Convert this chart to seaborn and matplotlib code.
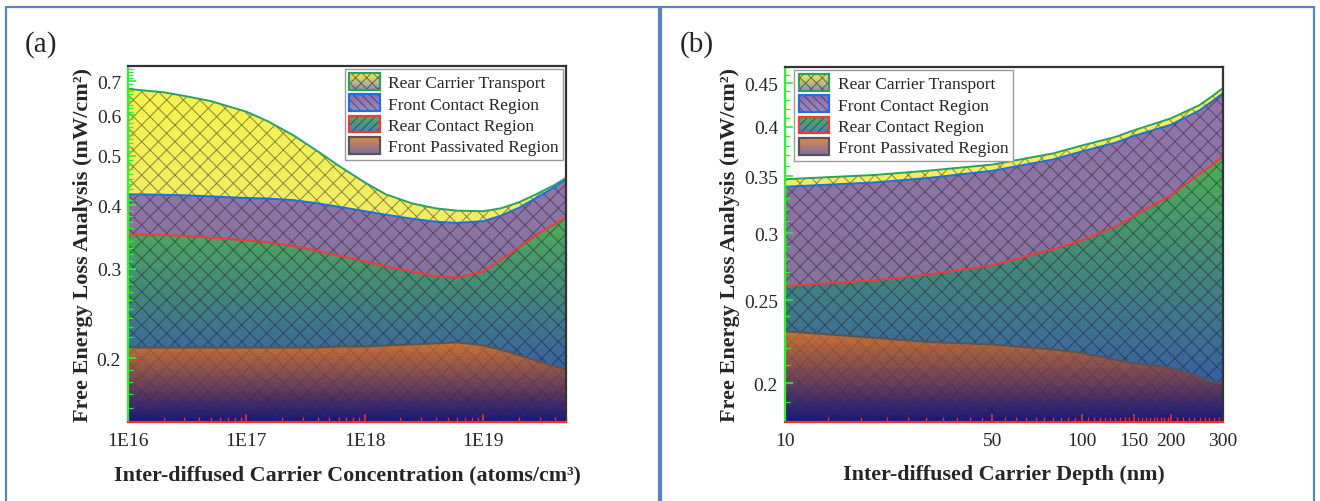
import numpy as np
import matplotlib
matplotlib.use('Agg')
import matplotlib.pyplot as plt
import matplotlib.ticker as mticker
import matplotlib.colors as mcolors
from matplotlib.patches import Rectangle, Patch
from matplotlib.legend_handler import HandlerBase
import seaborn as sns

# ---- panel (a): loss vs inter-diffused carrier concentration (atoms/cm3)
conc = [1e16, 2e16, 3e16, 5e16, 1e17, 1.5e17, 2.5e17, 4e17, 6e17, 1e18,
        1.5e18, 2.5e18, 4e18, 6e18, 1e19, 1.4e19, 2e19, 2.8e19, 4e19, 5e19]
conc_front_passivated = [0.210, 0.210, 0.210, 0.210, 0.210, 0.210, 0.210, 0.210, 0.211, 0.211,
                         0.212, 0.213, 0.214, 0.215, 0.212, 0.208, 0.203, 0.198, 0.193, 0.190]
conc_rear_contact = [0.140, 0.139, 0.138, 0.135, 0.131, 0.128, 0.122, 0.115, 0.107, 0.099,
                     0.091, 0.083, 0.076, 0.073, 0.084, 0.104, 0.127, 0.151, 0.174, 0.188]
conc_front_contact = [0.070, 0.070, 0.070, 0.071, 0.072, 0.074, 0.077, 0.078, 0.079, 0.079,
                      0.080, 0.080, 0.081, 0.081, 0.076, 0.069, 0.065, 0.064, 0.067, 0.072]
conc_rear_carrier = [0.256, 0.247, 0.237, 0.224, 0.197, 0.173, 0.139, 0.107, 0.081, 0.054,
                     0.037, 0.027, 0.023, 0.021, 0.017, 0.013, 0.010, 0.007, 0.004, 0.002]

# ---- panel (b): loss vs inter-diffused carrier depth (nm)
depth = [10, 20, 30, 50, 80, 100, 130, 150, 200, 250, 275, 300]
depth_front_passivated = [0.230, 0.226, 0.2235, 0.222, 0.219, 0.217, 0.213, 0.211, 0.2085, 0.2035, 0.2005, 0.200]
depth_rear_contact = [0.030, 0.038, 0.0445, 0.053, 0.068, 0.077, 0.092, 0.103, 0.1235, 0.1485, 0.1595, 0.169]
depth_front_contact = [0.080, 0.080, 0.080, 0.080, 0.079, 0.080, 0.078, 0.076, 0.070, 0.066, 0.068, 0.069]
depth_rear_carrier = [0.007, 0.007, 0.007, 0.006, 0.006, 0.006, 0.006, 0.006, 0.007, 0.006, 0.006, 0.006]

labels = ['Front Passivated Region', 'Rear Contact Region', 'Front Contact Region', 'Rear Carrier Transport']

conc_ticks_y = [0.2, 0.3, 0.4, 0.5, 0.6, 0.7]
depth_ticks_x = [10, 50, 100, 150, 200, 300]
depth_ticks_y = [0.2, 0.25, 0.3, 0.35, 0.4, 0.45]

# styles, bottom layer first
STYLES = [
    dict(top='#cc7234', bottom='#18187a', line='#555555', hatch='xx', halpha=0.18,
         leg_top='#de8a3c', leg_bottom='#7d6ea8', leg_hatch=None),
    dict(top='#4fae57', bottom='#3a5fa2', line='#f03a3a', hatch='xx', halpha=0.5,
         leg_top='#4fae57', leg_bottom='#4a7fb8', leg_hatch='////'),
    dict(top='#9275ab', bottom='#86729a', line='#1f6fe0', hatch='xx', halpha=0.5,
         leg_top='#8a68b0', leg_bottom='#9c8cbf', leg_hatch='\\\\\\\\'),
    dict(top='#f7f34c', bottom='#f1ec66', line='#2aa062', hatch='xx', halpha=0.5,
         leg_top='#f3ef4a', leg_bottom='#8e8fb5', leg_hatch='xxx'),
]

GREEN_AX = '#30ee30'
RED_AX = '#ff2a2a'
BOX_BLUE = '#5a84c2'


class GradientHandler(HandlerBase):
    def __init__(self, top, bottom, edge, hatch):
        super().__init__()
        self.top = np.array(mcolors.to_rgb(top))
        self.bottom = np.array(mcolors.to_rgb(bottom))
        self.edge = edge
        self.hatch = hatch

    def create_artists(self, legend, orig_handle, xdescent, ydescent, width, height, fontsize, trans):
        arts = []
        n = 20
        x0, y0 = -xdescent, -ydescent
        for i in range(n):
            t = (i + 0.5) / n
            c = self.bottom + t * (self.top - self.bottom)
            arts.append(Rectangle((x0, y0 + i * height / n), width, height / n * 1.05,
                                  facecolor=c, edgecolor='none', lw=0, transform=trans))
        if self.hatch:
            arts.append(Rectangle((x0, y0), width, height, facecolor='none',
                                  edgecolor=(0.15, 0.15, 0.15, 0.6), lw=0, hatch=self.hatch, transform=trans))
        arts.append(Rectangle((x0, y0), width, height, facecolor='none',
                              edgecolor=self.edge, lw=1.6, transform=trans))
        return arts


def draw_panel(ax, x, parts, xlim, ylim):
    ax.set_xscale('log')
    ax.set_yscale('log')
    ax.set_xlim(xlim)
    ax.set_ylim(ylim)
    ax.autoscale(False)
    x = np.asarray(x, dtype=float)
    tops = np.cumsum(np.asarray(parts, dtype=float), axis=0)
    lmin, lmax = np.log10(ylim[0]), np.log10(ylim[1])

    def frac(v):
        return (np.log10(v) - lmin) / (lmax - lmin)

    yy = np.linspace(0, 1, 800)[:, None]
    for i, st in enumerate(STYLES):
        upper = tops[i]
        if i == 0:
            lower = np.full_like(upper, ylim[0] * 0.9)
            f0 = 0.0
        else:
            lower = tops[i - 1]
            f0 = frac(lower.min())
        f1 = frac(upper.max())
        t = np.clip((yy - f0) / (f1 - f0), 0, 1)
        c0 = np.array(mcolors.to_rgb(st['bottom']))
        c1 = np.array(mcolors.to_rgb(st['top']))
        img = c0 + t[..., None] * (c1 - c0)
        plt.rcParams['hatch.color'] = (0.1, 0.1, 0.12, st['halpha'])
        band = ax.fill_between(x, lower, upper, facecolor='none',
                               edgecolor=(0.1, 0.1, 0.12, st['halpha']),
                               hatch=st['hatch'], linewidth=0, zorder=2)
        im = ax.imshow(img, extent=(0, 1, 0, 1), transform=ax.transAxes, origin='lower',
                       aspect='auto', interpolation='bilinear', zorder=1)
        im.set_clip_path(band.get_paths()[0], band.get_transform())
    for i, st in enumerate(STYLES):
        sns.lineplot(x=x, y=tops[i], ax=ax, color=st['line'], lw=1.4, zorder=3, legend=False)
    ax.set_xlim(xlim)
    ax.set_ylim(ylim)
    ax.set_aspect('auto')


def style_axes(ax):
    ax.set_axisbelow(False)
    for side in ['top', 'right']:
        ax.spines[side].set_color('#333333')
        ax.spines[side].set_linewidth(1.6)
    ax.spines['left'].set_color(GREEN_AX)
    ax.spines['left'].set_linewidth(1.6)
    ax.spines['bottom'].set_color(RED_AX)
    ax.spines['bottom'].set_linewidth(1.6)
    for sp in ax.spines.values():
        sp.set_zorder(4)
    ax.tick_params(axis='y', which='both', direction='in', color=GREEN_AX, labelsize=14, pad=5,
                   left=True, right=False)
    ax.tick_params(axis='x', which='both', direction='in', color=RED_AX, labelsize=14, pad=7,
                   bottom=True, top=False)
    ax.tick_params(which='major', length=6, width=1.2)
    ax.tick_params(which='minor', length=3.5, width=0.9)
    ax.yaxis.set_minor_formatter(mticker.NullFormatter())
    ax.xaxis.set_minor_formatter(mticker.NullFormatter())


def add_legend(ax, loc, anchor):
    handles, hmap = [], {}
    for st, lab in zip(STYLES[::-1], labels[::-1]):
        h = Patch(label=lab)
        handles.append(h)
        hmap[h] = GradientHandler(st['leg_top'], st['leg_bottom'], st['line'], st['leg_hatch'])
    leg = ax.legend(handles=handles, handler_map=hmap, loc=loc, bbox_to_anchor=anchor,
                    fontsize=12.5, frameon=True, fancybox=False, framealpha=1, edgecolor='#9a9a9a',
                    borderpad=0.25, labelspacing=0.18, handlelength=1.75, handleheight=1.1,
                    handletextpad=0.5, borderaxespad=0.15)
    leg.get_frame().set_linewidth(1.0)
    leg.set_zorder(10)


sns.set_theme(style='ticks')
plt.rcParams['font.family'] = ['Liberation Serif', 'DejaVu Serif']
plt.rcParams['hatch.linewidth'] = 0.7

fig = plt.figure(figsize=(13.2, 5.02), dpi=100)

# panel frames
fig.patches.append(Rectangle((6 / 1320, -0.02), 653 / 1320, 1 - 8 / 502 + 0.02, transform=fig.transFigure,
                             facecolor='none', edgecolor=BOX_BLUE, lw=1.6, zorder=0))
fig.patches.append(Rectangle((661 / 1320, -0.02), 653 / 1320, 1 - 8 / 502 + 0.02, transform=fig.transFigure,
                             facecolor='none', edgecolor=BOX_BLUE, lw=1.6, zorder=0))

ax_a = fig.add_axes([128 / 1320, 79 / 502, 438 / 1320, 356 / 502])
ax_b = fig.add_axes([785 / 1320, 79 / 502, 438 / 1320, 355 / 502])

# panel (a)
draw_panel(ax_a, conc, [conc_front_passivated, conc_rear_contact, conc_front_contact, conc_rear_carrier],
           (1e16, 5e19), (0.15, 0.75))
style_axes(ax_a)
ax_a.xaxis.set_major_locator(mticker.LogLocator(base=10, numticks=10))
ax_a.xaxis.set_minor_locator(mticker.LogLocator(base=10, subs=np.arange(2, 10), numticks=20))
ax_a.xaxis.set_major_formatter(mticker.FuncFormatter(lambda v, p: f'1E{int(round(np.log10(v)))}'))
ax_a.yaxis.set_major_locator(mticker.FixedLocator(conc_ticks_y))
ax_a.yaxis.set_minor_locator(mticker.FixedLocator(np.arange(0.15, 0.755, 0.01)))
ax_a.yaxis.set_major_formatter(mticker.FuncFormatter(lambda v, p: f'{v:g}'))
ax_a.set_xlabel('Inter-diffused Carrier Concentration (atoms/cm³)', fontsize=15.8, fontweight='bold', labelpad=11)
ax_a.set_ylabel('Free Energy Loss Analysis (mW/cm²)', fontsize=16, fontweight='bold', labelpad=3)
add_legend(ax_a, 'upper right', (1.0, 1.0))

# panel (b)
draw_panel(ax_b, depth, [depth_front_passivated, depth_rear_contact, depth_front_contact, depth_rear_carrier],
           (10, 300), (0.18, 0.47))
style_axes(ax_b)
minor_b = np.concatenate([np.linspace(a, b, 11)[1:-1] for a, b in zip(depth_ticks_x[:-1], depth_ticks_x[1:])])
ax_b.xaxis.set_major_locator(mticker.FixedLocator(depth_ticks_x))
ax_b.xaxis.set_minor_locator(mticker.FixedLocator(minor_b))
ax_b.xaxis.set_major_formatter(mticker.FuncFormatter(lambda v, p: f'{v:g}'))
ax_b.yaxis.set_major_locator(mticker.FixedLocator(depth_ticks_y))
ax_b.yaxis.set_minor_locator(mticker.FixedLocator(np.arange(0.18, 0.475, 0.01)))
ax_b.yaxis.set_major_formatter(mticker.FuncFormatter(lambda v, p: f'{v:g}'))
ax_b.set_xlabel('Inter-diffused Carrier Depth (nm)', fontsize=15.8, fontweight='bold', labelpad=11)
ax_b.set_ylabel('Free Energy Loss Analysis (mW/cm²)', fontsize=16, fontweight='bold', labelpad=3)
add_legend(ax_b, 'upper left', (0.015, 1.0))

fig.text(25 / 1320, 1 - 45 / 502, '(a)', fontsize=21, va='center', ha='left')
fig.text(680 / 1320, 1 - 45 / 502, '(b)', fontsize=21, va='center', ha='left')

fig.savefig('out.png', dpi=100)
